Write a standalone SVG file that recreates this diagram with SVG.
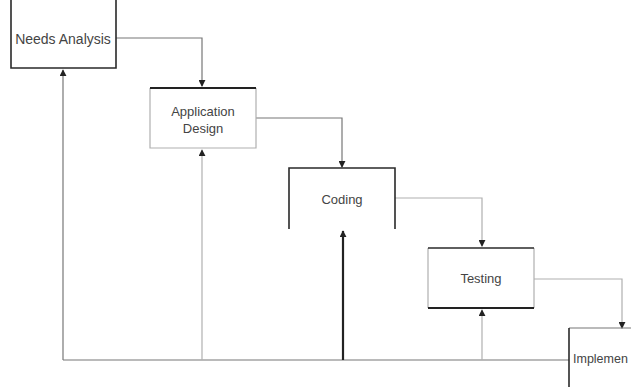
<svg xmlns="http://www.w3.org/2000/svg" width="631" height="387" viewBox="0 0 631 387">
<defs>
<style>
.lbl{font-family:"Liberation Sans",Arial,sans-serif;font-size:13px;fill:#444;text-anchor:middle}
.dk{stroke:#2a2a2a;stroke-width:1.6;fill:none}
.md{stroke:#777;stroke-width:1.2;fill:none}
.lt{stroke:#b0b0b0;stroke-width:1.2;fill:none}
.thk{stroke:#222;stroke-width:2.2;fill:none}
</style>
<marker id="ah" viewBox="0 0 8 8" refX="7" refY="4" markerWidth="7" markerHeight="7" markerUnits="userSpaceOnUse" orient="auto">
<path d="M0,0 L8,4 L0,8 z" fill="#222"/>
</marker>
</defs>
<rect width="631" height="387" fill="#fff"/>
<g id="connectors">
<path class="md" d="M116,38 H202 V86" marker-end="url(#ah)"/>
<path class="md" d="M256,118 H342 V167" marker-end="url(#ah)"/>
<path class="lt" d="M395,198 H482 V246" marker-end="url(#ah)"/>
<path class="lt" d="M534,279 H622 V328" marker-end="url(#ah)"/>
<path class="md" d="M569,360 H63"/>
<path class="md" d="M63,360 V70" marker-end="url(#ah)"/>
<path class="lt" d="M202,360 V150" marker-end="url(#ah)"/>
<path class="thk" d="M343,360 V231" marker-end="url(#ah)"/>
<path class="lt" d="M482,360 V310" marker-end="url(#ah)"/>
</g>
<g id="needs-analysis">
<path class="dk" d="M11,0 V68 H116 V0"/>
<text class="lbl" x="63" y="44" style="font-size:14px">Needs Analysis</text>
</g>
<g id="application-design">
<path class="lt" d="M150,88 V148 H256 V88"/>
<path class="thk" d="M150,88 H256"/>
<text class="lbl" x="203" y="116">Application</text>
<text class="lbl" x="203" y="133">Design</text>
</g>
<g id="coding">
<path class="dk" d="M289,229 V168 H395 V229"/>
<text class="lbl" x="342" y="204">Coding</text>
</g>
<g id="testing">
<path class="lt" d="M428,248 V308 M534,248 V308"/>
<path class="dk" d="M428,248 H534"/>
<path class="thk" d="M428,308 H534"/>
<text class="lbl" x="481" y="283">Testing</text>
</g>
<g id="implementation">
<path class="md" d="M569,328 H631"/>
<path class="dk" d="M569,328 V387"/>
<text class="lbl" x="573" y="363" style="text-anchor:start;font-size:12.5px">Implemen</text>
</g>
</svg>
